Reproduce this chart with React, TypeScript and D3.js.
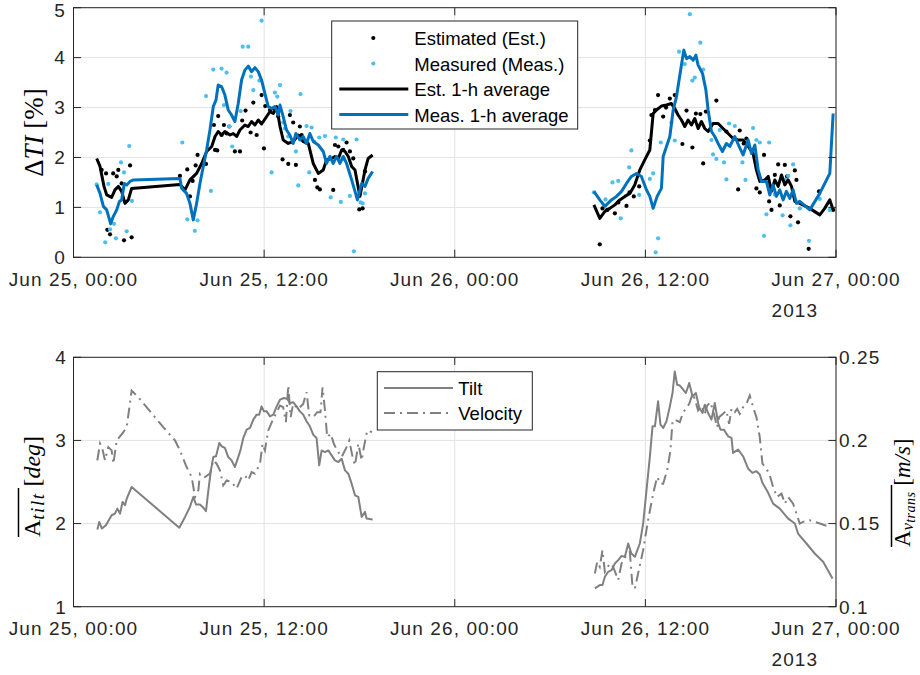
import React from "react";
import * as d3 from "d3";

// ---------------- data ----------------
const xTickHours = [0, 12, 24, 36, 48];
const xTickLabels = ["Jun 25, 00:00", "Jun 25, 12:00", "Jun 26, 00:00", "Jun 26, 12:00", "Jun 27, 00:00"];
const yearLabel = "2013";
const topYTicks = [0, 1, 2, 3, 4, 5];
const tiltTicks = [1, 2, 3, 4];
const velTicks = [0.1, 0.15, 0.2, 0.25];
const velTickLabels = ["0.1", "0.15", "0.2", "0.25"];

// [hours since Jun 25 00:00, ΔTI %]
const estDots: [number, number][] = [
  [1.77, 1.75], [2.05, 1.68], [2.5, 1.68], [2.72, 1.62], [2.82, 1.75], [3.03, 1.48], [3.56, 1.84], [2.13, 0.55], [2.3, 0.46], [3.18, 0.34], [3.66, 0.4],
  [6.7, 1.63], [7.16, 1.76], [7.33, 1.22], [7.5, 1.53], [7.69, 1.84], [7.81, 2.05], [8.34, 1.87], [8.91, 2.15], [9.05, 2.14], [9.11, 2.83], [8.84, 2.65],
  [9.32, 2.45], [9.47, 2.65], [9.64, 2.48], [9.81, 2.62], [10.16, 2.12], [10.48, 2.12], [10.62, 2.74], [10.83, 2.94], [11.15, 2.5], [11.32, 3.1],
  [11.53, 2.45], [11.84, 3.25], [11.99, 2.18], [12.07, 3.03], [12.37, 2.95], [12.58, 2.98], [12.89, 2.82], [13.16, 1.96], [13.52, 1.87], [13.62, 2.85],
  [13.83, 2.7], [14.0, 1.85], [14.25, 2.62], [14.36, 2.45], [15.2, 1.55], [15.35, 1.4], [15.51, 1.36], [16.35, 1.35], [16.46, 2.25], [16.67, 2.22],
  [16.98, 2.15], [17.19, 2.3], [17.4, 2.12], [17.61, 1.98], [17.99, 0.96], [18.2, 0.98], [18.35, 1.72], [16.98, 1.98],
  [33.13, 0.26], [33.3, 0.98], [33.6, 0.95], [34.08, 0.88], [34.3, 1.1], [34.81, 1.03], [35.0, 1.3], [35.27, 1.22], [35.61, 1.42], [36.28, 2.34],
  [36.38, 2.85], [36.6, 2.95], [36.8, 3.25], [37.12, 2.82], [37.3, 3.0], [37.54, 3.18], [37.85, 3.25], [38.33, 2.27], [38.59, 2.94], [38.96, 2.2],
  [39.18, 2.88], [39.46, 2.87], [39.64, 1.88], [39.81, 2.92], [40.47, 3.14], [41.1, 2.52], [41.84, 1.36], [41.94, 2.54], [42.19, 2.28], [42.36, 2.38],
  [42.99, 1.38], [43.2, 1.3], [43.47, 2.05], [43.79, 1.12], [43.94, 0.95], [44.15, 1.65], [44.36, 1.86], [44.46, 1.04], [44.78, 1.85], [44.92, 1.62],
  [45.13, 0.82], [45.41, 1.74], [45.51, 1.55], [45.61, 0.7], [46.28, 0.17], [46.93, 1.32], [47.82, 0.95],
];

const measDots: [number, number][] = [
  [1.46, 1.46], [1.67, 0.9], [2.0, 0.3], [2.19, 1.47], [2.3, 0.56], [2.55, 0.67], [2.67, 0.38], [2.99, 1.9], [3.18, 1.7], [3.35, 0.52], [3.51, 2.23], [3.68, 1.13],
  [6.85, 2.3], [7.16, 0.76], [7.64, 0.53], [7.81, 0.74], [8.65, 1.33], [8.34, 3.23], [8.8, 3.76], [9.32, 3.78], [9.64, 3.7], [9.47, 3.05], [9.81, 2.62],
  [9.99, 2.22], [10.52, 2.93], [10.65, 4.22], [11.0, 4.22], [11.17, 3.62], [11.32, 3.35], [11.7, 3.54], [11.84, 4.74], [12.47, 1.7], [12.68, 3.3],
  [12.83, 3.22], [13.0, 3.45], [13.2, 2.7], [13.31, 2.58], [13.52, 2.42], [13.66, 2.93], [14.0, 2.12], [14.15, 1.44], [14.29, 3.27], [14.41, 2.35],
  [14.67, 2.63], [14.84, 1.7], [14.99, 2.6], [15.16, 2.32], [15.47, 2.4], [15.83, 2.43], [16.19, 1.2], [16.51, 2.4], [16.83, 1.11], [16.98, 2.36],
  [17.4, 1.23], [17.65, 0.12], [17.82, 2.36], [18.07, 1.1], [18.35, 1.28], [18.2, 1.08],
  [32.76, 1.3], [33.49, 1.16], [33.93, 1.5], [34.29, 1.53], [34.45, 0.78], [34.98, 1.8], [35.12, 2.14], [35.61, 1.25], [36.28, 1.57], [36.49, 1.68],
  [36.8, 0.38], [36.65, 0.1], [36.97, 2.3], [37.85, 2.34], [37.64, 2.7], [38.12, 4.12], [38.48, 3.87], [38.8, 4.87], [38.96, 3.54], [39.11, 3.6],
  [39.46, 4.3], [39.64, 3.76], [40.16, 2.35], [40.26, 2.06], [40.47, 1.97], [40.68, 2.55], [40.95, 1.9], [41.1, 1.56], [41.27, 2.68], [41.63, 2.63],
  [42.11, 1.9], [42.3, 1.55], [42.78, 2.59], [42.99, 2.35], [43.2, 2.3], [43.47, 0.43], [43.62, 0.86], [43.79, 2.3], [44.15, 1.26], [44.64, 0.84],
  [44.78, 1.55], [44.99, 1.63], [45.13, 0.64], [45.3, 1.86], [45.72, 0.98], [46.3, 0.33], [46.98, 1.17], [47.61, 0.95],
];

const estAvg1: [number, number][] = [
  [1.46, 1.98], [1.67, 1.82], [1.92, 1.42], [2.09, 1.25], [2.4, 1.2], [2.61, 1.35], [2.82, 1.42], [3.03, 1.32], [3.24, 1.08], [3.45, 1.15], [3.66, 1.38],
  [6.7, 1.46], [7.02, 1.35], [7.33, 1.55], [7.75, 1.68], [8.07, 1.88], [8.38, 2.12], [8.7, 2.22], [8.91, 2.42], [9.11, 2.52], [9.32, 2.45], [9.53, 2.52],
  [9.85, 2.45], [10.06, 2.48], [10.27, 2.42], [10.48, 2.55], [10.79, 2.65], [11.0, 2.62], [11.21, 2.72], [11.42, 2.65], [11.63, 2.75], [11.84, 2.67],
  [12.16, 2.82], [12.37, 2.92], [12.58, 2.88], [12.79, 3.02], [13.0, 2.62], [13.2, 2.35], [13.52, 2.28], [13.83, 2.32], [14.15, 2.45], [14.46, 2.32],
  [14.78, 2.28], [15.09, 1.88], [15.41, 1.68], [15.72, 1.75], [15.93, 1.95], [16.25, 1.98], [16.46, 2.02], [16.67, 1.98], [16.88, 2.15], [17.09, 2.12],
  [17.3, 2.02], [17.51, 1.82], [17.72, 1.75], [18.03, 1.22], [18.35, 1.75], [18.55, 1.98], [18.83, 2.05],
];
const estAvg2: [number, number][] = [
  [32.76, 1.05], [33.13, 0.78], [33.45, 0.92], [33.76, 0.98], [34.08, 1.05], [34.39, 1.15], [34.71, 1.22], [35.02, 1.28], [35.33, 1.45], [35.65, 1.75],
  [35.96, 1.95], [36.28, 2.15], [36.49, 2.88], [36.7, 2.95], [37.01, 3.03], [37.33, 3.05], [37.64, 3.08], [37.85, 2.98], [38.06, 2.85], [38.27, 2.75],
  [38.48, 2.62], [38.69, 2.75], [38.9, 2.65], [39.11, 2.78], [39.32, 2.58], [39.53, 2.72], [39.74, 2.58], [39.95, 2.52], [40.26, 2.68], [40.58, 2.68],
  [40.89, 2.58], [41.21, 2.48], [41.52, 2.38], [41.84, 2.35], [42.15, 2.35], [42.47, 2.22], [42.78, 2.08], [42.99, 1.75], [43.2, 1.52], [43.52, 1.55],
  [43.73, 1.62], [43.94, 1.32], [44.15, 1.55], [44.36, 1.42], [44.57, 1.65], [44.78, 1.45], [44.99, 1.55], [45.2, 1.42], [45.41, 1.12], [45.72, 1.08],
  [46.35, 0.98], [46.98, 0.85], [47.29, 0.98], [47.61, 1.15], [47.82, 0.95],
];
const measAvg1: [number, number][] = [
  [1.46, 1.45], [1.67, 1.28], [1.88, 1.02], [2.09, 0.95], [2.34, 0.67], [2.51, 0.82], [2.72, 0.95], [2.89, 1.12], [3.03, 1.15], [3.2, 1.48], [3.35, 1.45],
  [3.56, 1.52], [3.77, 1.55], [6.7, 1.58], [6.81, 1.38], [7.12, 1.28], [7.33, 1.08], [7.54, 0.75], [7.75, 1.08], [7.96, 1.48], [8.17, 1.82], [8.38, 2.15],
  [8.59, 2.55], [8.8, 3.02], [8.97, 3.15], [9.11, 3.45], [9.32, 3.42], [9.53, 3.25], [9.74, 2.95], [9.95, 2.85], [10.16, 2.72], [10.37, 3.08],
  [10.58, 3.55], [10.79, 3.75], [11.0, 3.83], [11.21, 3.72], [11.42, 3.8], [11.63, 3.72], [11.84, 3.55], [12.05, 3.28], [12.26, 3.02], [12.47, 2.98],
  [12.68, 3.02], [12.89, 2.85], [13.0, 3.05], [13.2, 2.82], [13.41, 2.55], [13.62, 2.45], [13.83, 2.28], [14.0, 2.48], [14.25, 2.35], [14.46, 2.42],
  [14.67, 2.28], [14.88, 2.48], [15.09, 2.32], [15.41, 2.25], [15.72, 2.12], [15.93, 1.88], [16.14, 2.02], [16.35, 1.88], [16.56, 2.02], [16.77, 1.88],
  [16.98, 2.02], [17.19, 1.88], [17.51, 1.55], [17.72, 1.32], [17.87, 1.15], [18.14, 1.48], [18.35, 1.42], [18.55, 1.58], [18.83, 1.72],
];
const measAvg2: [number, number][] = [
  [32.76, 1.32], [33.13, 1.15], [33.45, 1.02], [33.86, 1.15], [34.18, 1.22], [34.5, 1.32], [34.81, 1.48], [35.12, 1.62], [35.44, 1.68], [35.75, 1.62],
  [36.07, 1.35], [36.28, 1.22], [36.49, 0.98], [36.74, 1.22], [37.01, 1.38], [37.12, 2.02], [37.33, 2.22], [37.54, 2.42], [37.75, 2.95], [37.96, 3.22],
  [38.17, 3.65], [38.42, 4.15], [38.59, 3.98], [38.8, 4.02], [39.01, 3.95], [39.18, 4.05], [39.32, 3.85], [39.6, 3.68], [39.81, 3.35], [39.95, 2.95],
  [40.16, 2.52], [40.37, 2.42], [40.58, 2.28], [40.85, 2.12], [41.1, 2.28], [41.31, 2.22], [41.63, 2.42], [41.9, 2.22], [42.15, 2.05], [42.47, 2.35],
  [42.68, 2.08], [42.89, 2.25], [43.1, 1.75], [43.31, 1.52], [43.62, 1.52], [43.83, 1.25], [44.04, 1.45], [44.25, 1.22], [44.46, 1.35], [44.67, 1.15],
  [44.88, 1.32], [45.09, 1.18], [45.3, 1.35], [45.51, 1.08], [45.72, 1.12], [46.35, 0.95], [46.98, 1.28], [47.61, 1.68], [47.82, 2.88],
];

// [hours, tilt deg]
const tilt1: [number, number][] = [
  [1.5, 1.93], [1.62, 2.02], [1.79, 1.94], [2.04, 1.98], [2.4, 2.1], [2.61, 2.12], [2.76, 2.18], [2.93, 2.12], [3.09, 2.26], [3.24, 2.22], [3.35, 2.3],
  [3.66, 2.44], [6.66, 1.95], [7.02, 2.08], [7.33, 2.2], [7.54, 2.32], [7.71, 2.23], [7.96, 2.23], [8.13, 2.2], [8.34, 2.15], [8.49, 2.4], [8.65, 2.64],
  [8.8, 2.8], [8.97, 2.81], [9.18, 2.97], [9.32, 2.93], [9.53, 2.91], [9.74, 2.8], [9.95, 2.76], [10.16, 2.68], [10.37, 2.8], [10.52, 2.89], [10.69, 3.03],
  [10.9, 3.13], [11.11, 3.15], [11.32, 3.25], [11.53, 3.31], [11.69, 3.31], [11.84, 3.41], [11.99, 3.35], [12.16, 3.35], [12.37, 3.29], [12.58, 3.31],
  [12.79, 3.41], [13.0, 3.49], [13.25, 3.51], [13.46, 3.5], [13.62, 3.45], [13.83, 3.46], [14.04, 3.41], [14.25, 3.35], [14.46, 3.31], [14.67, 3.23],
  [14.88, 3.17], [15.09, 3.07], [15.3, 3.03], [15.47, 2.7], [15.62, 2.88], [15.83, 2.86], [16.04, 2.88], [16.25, 2.82], [16.46, 2.76], [16.67, 2.74],
  [16.88, 2.78], [17.09, 2.64], [17.3, 2.6], [17.51, 2.48], [17.72, 2.34], [17.93, 2.32], [18.14, 2.08], [18.35, 2.14], [18.45, 2.06], [18.83, 2.05],
];
const tilt2: [number, number][] = [
  [32.82, 1.22], [33.13, 1.26], [33.3, 1.26], [33.45, 1.36], [33.66, 1.42], [33.87, 1.44], [34.08, 1.52], [34.29, 1.56], [34.5, 1.61], [34.71, 1.6],
  [34.92, 1.76], [35.12, 1.64], [35.34, 1.6], [35.65, 1.76], [35.86, 2.0], [36.07, 2.4], [36.28, 2.8], [36.45, 3.17], [36.6, 3.17], [36.8, 3.47],
  [36.95, 3.19], [37.12, 3.15], [37.33, 3.23], [37.54, 3.41], [37.71, 3.57], [37.85, 3.83], [38.0, 3.67], [38.17, 3.66], [38.38, 3.61], [38.55, 3.57],
  [38.76, 3.69], [38.97, 3.53], [39.18, 3.57], [39.39, 3.39], [39.6, 3.33], [39.74, 3.43], [39.95, 3.33], [40.16, 3.25], [40.37, 3.45], [40.58, 3.21],
  [40.73, 3.13], [40.94, 3.13], [41.21, 3.05], [41.42, 3.03], [41.52, 2.85], [41.84, 2.89], [42.15, 2.81], [42.47, 2.66], [42.74, 2.61], [42.99, 2.63],
  [43.2, 2.59], [43.37, 2.49], [43.73, 2.37], [44.04, 2.24], [44.46, 2.18], [44.99, 2.06], [45.41, 2.0], [45.61, 1.88], [46.14, 1.76], [46.66, 1.64],
  [47.19, 1.54], [47.78, 1.34],
];
// [hours, velocity m/s]
const vel1: [number, number][] = [
  [1.5, 0.188], [1.67, 0.198], [1.84, 0.194], [1.98, 0.188], [2.19, 0.196], [2.4, 0.194], [2.51, 0.186], [2.72, 0.2], [3.14, 0.205], [3.35, 0.208],
  [3.66, 0.23], [4.08, 0.226], [4.6, 0.22], [5.65, 0.208], [6.39, 0.2], [6.7, 0.194], [7.12, 0.184], [7.44, 0.178], [7.65, 0.166], [7.86, 0.17],
  [7.96, 0.18], [8.27, 0.178], [8.59, 0.18], [8.8, 0.188], [9.01, 0.186], [9.22, 0.182], [9.43, 0.173], [9.64, 0.176], [9.95, 0.175], [10.27, 0.171],
  [10.58, 0.178], [10.79, 0.179], [11.0, 0.176], [11.21, 0.181], [11.42, 0.18], [11.74, 0.186], [11.9, 0.198], [12.05, 0.194], [12.26, 0.206],
  [12.53, 0.212], [12.79, 0.217], [13.0, 0.221], [13.2, 0.22], [13.37, 0.211], [13.52, 0.233], [13.67, 0.214], [13.83, 0.222], [14.15, 0.219],
  [14.46, 0.222], [14.67, 0.229], [14.84, 0.215], [15.09, 0.214], [15.34, 0.217], [15.55, 0.217], [15.68, 0.232], [15.83, 0.218], [15.97, 0.202],
  [16.19, 0.204], [16.39, 0.198], [16.6, 0.194], [16.88, 0.19], [17.19, 0.196], [17.36, 0.2], [17.57, 0.19], [17.72, 0.185], [17.93, 0.198],
  [18.14, 0.188], [18.28, 0.196], [18.49, 0.206], [18.79, 0.205],
];
const vel2: [number, number][] = [
  [32.82, 0.12], [32.97, 0.127], [33.13, 0.124], [33.3, 0.134], [33.45, 0.121], [33.76, 0.126], [33.97, 0.124], [34.29, 0.116], [34.5, 0.126],
  [34.81, 0.131], [35.02, 0.133], [35.19, 0.112], [35.34, 0.111], [35.61, 0.123], [35.86, 0.134], [36.17, 0.152], [36.49, 0.168], [36.74, 0.178],
  [36.95, 0.174], [37.12, 0.174], [37.37, 0.182], [37.58, 0.194], [37.71, 0.212], [37.96, 0.212], [38.17, 0.211], [38.38, 0.217], [38.55, 0.219],
  [38.76, 0.222], [38.97, 0.228], [39.11, 0.225], [39.32, 0.218], [39.53, 0.221], [39.74, 0.216], [39.89, 0.221], [40.1, 0.223], [40.31, 0.216],
  [40.52, 0.208], [40.64, 0.214], [40.89, 0.216], [41.1, 0.218], [41.27, 0.21], [41.42, 0.219], [41.63, 0.217], [41.78, 0.219], [41.94, 0.216],
  [42.15, 0.22], [42.36, 0.222], [42.57, 0.227], [42.78, 0.22], [42.99, 0.214], [43.2, 0.202], [43.37, 0.186], [43.62, 0.183], [43.83, 0.179],
  [44.04, 0.172], [44.29, 0.166], [44.57, 0.168], [44.78, 0.162], [44.99, 0.166], [45.3, 0.162], [45.51, 0.156], [45.72, 0.15], [45.93, 0.151],
  [46.35, 0.152], [46.98, 0.15], [47.61, 0.148],
];

const topLegend = ["Estimated (Est.)", "Measured (Meas.)", "Est. 1-h average", "Meas. 1-h average"];
const botLegend = ["Tilt", "Velocity"];

// ---------------- layout ----------------
const W = 920, H = 675;
const PL = 73.5, PR = 836;
const TOP = { t: 7.7, b: 257.3 };
const BOT = { t: 357.3, b: 606.7 };
const AX = "#262626";
const GRID = "#e3e3e3";
const BLUE = "#0072BD";
const LBLUE = "#4DBEEE";
const GRAY = "#808080";
const SANS = "'Liberation Sans', Arial, Helvetica, sans-serif";
const SERIF = "'Liberation Serif', 'Times New Roman', serif";
const TL = 7.6;
const DASHDOT = "11,5,2,5";

const base = new Date(2013, 5, 25, 0, 0, 0).getTime();
const toDate = (h: number) => new Date(base + h * 3600 * 1000);

export default function App() {
  const x = d3.scaleTime().domain([toDate(0), toDate(48)]).range([PL, PR]);
  const yT = d3.scaleLinear().domain([0, 5]).range([TOP.b, TOP.t]);
  const yTilt = d3.scaleLinear().domain([1, 4]).range([BOT.b, BOT.t]);
  const yVel = d3.scaleLinear().domain([0.1, 0.25]).range([BOT.b, BOT.t]);

  const lineTop = d3.line<[number, number]>().x((d) => x(toDate(d[0]))).y((d) => yT(d[1]));
  const lineTilt = d3.line<[number, number]>().x((d) => x(toDate(d[0]))).y((d) => yTilt(d[1]));
  const lineVel = d3.line<[number, number]>().x((d) => x(toDate(d[0]))).y((d) => yVel(d[1]));

  const tickText = { fontFamily: SANS, fontSize: 19, fill: AX, letterSpacing: 1.1 } as const;

  const xAxis = (p: { t: number; b: number }, key: string) => (
    <g key={key}>
      {xTickHours.map((h, i) => {
        const xx = x(toDate(h));
        return (
          <g key={i}>
            <line x1={xx} x2={xx} y1={p.b} y2={p.b - TL} stroke={AX} strokeWidth={1} />
            <line x1={xx} x2={xx} y1={p.t} y2={p.t + TL} stroke={AX} strokeWidth={1} />
            <text x={xx} y={p.b + 28.7} textAnchor="middle" {...tickText}>{xTickLabels[i]}</text>
          </g>
        );
      })}
      <text x={x(toDate(48)) - 64.5} y={p.b + 59.4} textAnchor="start" {...tickText}>{yearLabel}</text>
    </g>
  );

  const grid = (p: { t: number; b: number }, ys: number[], key: string) => (
    <g key={key}>
      {xTickHours.map((h, i) => (
        <line key={"v" + i} x1={x(toDate(h))} x2={x(toDate(h))} y1={p.t} y2={p.b} stroke={GRID} strokeWidth={1} />
      ))}
      {ys.map((yy, i) => (
        <line key={"h" + i} x1={PL} x2={PR} y1={yy} y2={yy} stroke={GRID} strokeWidth={1} />
      ))}
    </g>
  );

  const tLeg = { x: 331.7, y: 21, w: 246, h: 108 };
  const tRows = [38, 63.5, 89, 114.5];
  const bLeg = { x: 377.3, y: 371.7, w: 155, h: 58.3 };
  const bRows = [388, 413];

  return (
    <svg width={W} height={H} style={{ position: "absolute", left: 0, top: 0, background: "#fff" }}>
      <rect x={0} y={0} width={W} height={H} fill="#fff" />
      {/* ---------- top panel ---------- */}
      {grid(TOP, topYTicks.map((v) => yT(v)), "g1")}
      <g>
        {estDots.map((d, i) => (
          <circle key={"e" + i} cx={x(toDate(d[0]))} cy={yT(d[1])} r={2.1} fill="#000" />
        ))}
        {measDots.map((d, i) => (
          <circle key={"m" + i} cx={x(toDate(d[0]))} cy={yT(d[1])} r={2.1} fill={LBLUE} />
        ))}
        {[estAvg1, estAvg2].map((s, i) => (
          <path key={"ea" + i} d={lineTop(s) || ""} fill="none" stroke="#000" strokeWidth={3} strokeLinejoin="round" />
        ))}
        {[measAvg1, measAvg2].map((s, i) => (
          <path key={"ma" + i} d={lineTop(s) || ""} fill="none" stroke={BLUE} strokeWidth={3} strokeLinejoin="round" />
        ))}
      </g>
      <rect x={PL} y={TOP.t} width={PR - PL} height={TOP.b - TOP.t} fill="none" stroke={AX} strokeWidth={1} />
      {topYTicks.map((v, i) => (
        <g key={"ty" + i}>
          <line x1={PL} x2={PL + TL} y1={yT(v)} y2={yT(v)} stroke={AX} />
          <line x1={PR} x2={PR - TL} y1={yT(v)} y2={yT(v)} stroke={AX} />
          <text x={66} y={Math.max(yT(v) + 6.8, 17)} textAnchor="end" {...tickText}>{v}</text>
        </g>
      ))}
      {xAxis(TOP, "xa1")}
      <text transform={`translate(43,${(TOP.t + TOP.b) / 2}) rotate(-90)`} textAnchor="middle" fontFamily={SERIF} fontSize={27} fill="#000">
        <tspan>Δ</tspan>
        <tspan fontStyle="italic">TI</tspan>
        <tspan> [%]</tspan>
      </text>
      {/* top legend */}
      <g>
        <rect x={tLeg.x} y={tLeg.y} width={tLeg.w} height={tLeg.h} fill="#fff" stroke={AX} strokeWidth={1} />
        <circle cx={373.3} cy={tRows[0]} r={2.1} fill="#000" />
        <circle cx={373.3} cy={tRows[1]} r={2.1} fill={LBLUE} />
        <line x1={339.3} x2={408.3} y1={tRows[2]} y2={tRows[2]} stroke="#000" strokeWidth={3} />
        <line x1={339.3} x2={408.3} y1={tRows[3]} y2={tRows[3]} stroke={BLUE} strokeWidth={3} />
        {topLegend.map((t, i) => (
          <text key={i} x={414.3} y={tRows[i] + 7} fontFamily={SANS} fontSize={18.5} fill="#000">{t}</text>
        ))}
      </g>

      {/* ---------- bottom panel ---------- */}
      {grid(BOT, tiltTicks.map((v) => yTilt(v)), "g2")}
      <g>
        {[tilt1, tilt2].map((s, i) => (
          <path key={"ti" + i} d={lineTilt(s) || ""} fill="none" stroke={GRAY} strokeWidth={2} strokeLinejoin="round" />
        ))}
        {[vel1, vel2].map((s, i) => (
          <path key={"ve" + i} d={lineVel(s) || ""} fill="none" stroke={GRAY} strokeWidth={2} strokeDasharray={DASHDOT} />
        ))}
      </g>
      <rect x={PL} y={BOT.t} width={PR - PL} height={BOT.b - BOT.t} fill="none" stroke={AX} strokeWidth={1} />
      {tiltTicks.map((v, i) => (
        <g key={"bl" + i}>
          <line x1={PL} x2={PL + TL} y1={yTilt(v)} y2={yTilt(v)} stroke={AX} />
          <text x={67} y={yTilt(v) + 6.8} textAnchor="end" {...tickText}>{v}</text>
        </g>
      ))}
      {velTicks.map((v, i) => (
        <g key={"br" + i}>
          <line x1={PR} x2={PR - TL} y1={yVel(v)} y2={yVel(v)} stroke={AX} />
          <text x={839} y={yVel(v) + 6.8} textAnchor="start" {...tickText}>{velTickLabels[i]}</text>
        </g>
      ))}
      {xAxis(BOT, "xa2")}
      {/* left label */}
      <text transform={`translate(39.5,537) rotate(-90)`} fontFamily={SERIF} fontSize={24} fill="#000">
        <tspan>A</tspan>
        <tspan fontStyle="italic" fontSize={19} dy={4} letterSpacing={1.5}>tilt</tspan>
        <tspan dy={-4}> [</tspan>
        <tspan fontStyle="italic">deg</tspan>
        <tspan>]</tspan>
      </text>
      <line x1={18.5} x2={18.5} y1={537} y2={488} stroke="#000" strokeWidth={1.5} />
      {/* right label */}
      <text transform={`translate(910,547) rotate(-90)`} fontFamily={SERIF} fontSize={23} fill="#000">
        <tspan>A</tspan>
        <tspan fontStyle="italic" fontSize={17} dy={3}>v</tspan>
        <tspan fontStyle="italic" fontSize={14} dy={2} letterSpacing={0.5}>trans</tspan>
        <tspan dy={-5}> [</tspan>
        <tspan fontStyle="italic">m/s</tspan>
        <tspan>]</tspan>
      </text>
      <line x1={891.5} x2={891.5} y1={547} y2={485} stroke="#000" strokeWidth={1.5} />
      {/* bottom legend */}
      <g>
        <rect x={bLeg.x} y={bLeg.y} width={bLeg.w} height={bLeg.h} fill="#fff" stroke={AX} strokeWidth={1} />
        <line x1={384} x2={453} y1={bRows[0]} y2={bRows[0]} stroke={GRAY} strokeWidth={2} />
        <line x1={384} x2={453} y1={bRows[1]} y2={bRows[1]} stroke={GRAY} strokeWidth={2} strokeDasharray={DASHDOT} />
        {botLegend.map((t, i) => (
          <text key={i} x={458.3} y={bRows[i] + 7} fontFamily={SANS} fontSize={18.5} fill="#000">{t}</text>
        ))}
      </g>
    </svg>
  );
}
